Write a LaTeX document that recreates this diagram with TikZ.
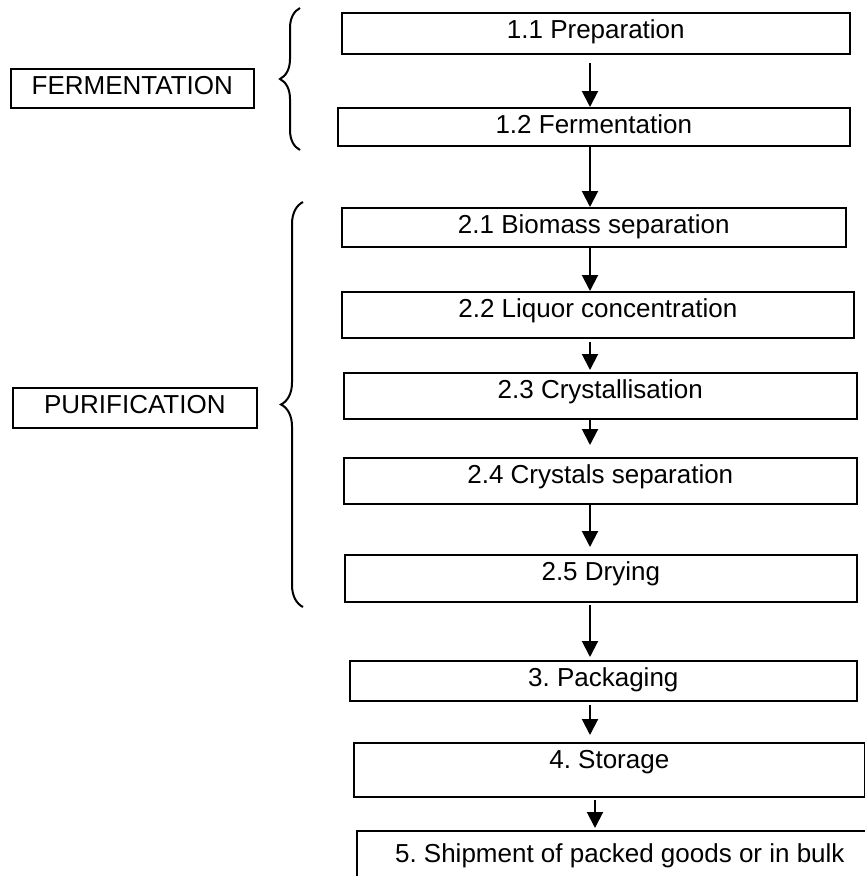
\documentclass[tikz,border=0pt]{standalone}
\usepackage{fontspec}
\setmainfont{Liberation Sans}
\usepackage{tikz}
\usetikzlibrary{
        arrows.meta,
        decorations.pathreplacing,
        positioning
    }
\frenchspacing
\tikzset{
    stage/.style={draw,line width=1.6pt,anchor=north west,inner xsep=0pt,inner ysep=8pt,
        text height=18pt,font=\fontsize{26}{30}\selectfont},
    phase/.style={stage,inner xsep=0pt},
    flow/.style={-{Triangle[length=16pt,width=16pt]},line width=2pt},
    bracket/.style={decorate,decoration={brace,amplitude=#1},line width=2pt}
}

\begin{document}
\begin{tikzpicture}[x=1pt,y=-1pt]
                    \useasboundingbox (0,0) rectangle (865,876);
                    \node[phase,minimum width=243pt,text depth=5pt] (ferm)  at (10,68)   {FERMENTATION};
                    \node[phase,minimum width=244pt,text depth=6pt] (purif) at (12,387)  {PURIFICATION};
                    \node[stage,minimum width=508pt,text depth=7pt]  (p11) at (341,12)  {1.1 Preparation};
                    \node[stage,minimum width=512pt,text depth=4pt]  (p12) at (337,107) {1.2 Fermentation};
                    \node[stage,minimum width=504pt,text depth=5pt]  (p21) at (341,207) {2.1 Biomass separation};
                    \node[stage,minimum width=512pt,text depth=12pt] (p22) at (341,291) {2.2 Liquor concentration};
                    \node[stage,minimum width=513pt,text depth=12pt] (p23) at (343,372) {2.3 Crystallisation};
                    \node[stage,minimum width=513pt,text depth=12pt] (p24) at (343,457) {2.4 Crystals separation};
                    \node[stage,minimum width=512pt,text depth=13pt] (p25) at (344,554) {2.5 Drying};
                    \node[stage,minimum width=507pt,text depth=6pt]  (p3)  at (349,660) {3. Packaging};
                    \node[stage,minimum width=511pt,text depth=20pt] (p4)  at (353,742) {4. Storage};
                    \node[stage,minimum width=526pt,text height=24pt,text depth=36pt] (p5) at (356,830) {5. Shipment of packed goods or in bulk};
                    \coordinate (axis) at (590,0);
                    \coordinate (axisb) at (595,0);
                    \draw[bracket=20pt] (300,150) -- (300,8);
                    \draw[bracket=22pt] (303,607) -- (303,202);
                    \path[flow]
                        (axis |- p11.south) edge[shorten <=8pt] (axis |- p12.north)
                        (axis |- p12.south) edge (axis |- p21.north)
                        (axis |- p21.south) edge (axis |- p22.north)
                        (axis |- p22.south) edge[shorten <=3pt,shorten >=2pt] (axis |- p23.north)
                        (axis |- p23.south) edge[shorten <=-2pt,shorten >=12pt] (axis |- p24.north)
                        (axis |- p24.south) edge[shorten >=7pt] (axis |- p25.north)
                        (axis |- p25.south) edge[shorten <=2pt,shorten >=3pt] (axis |- p3.north)
                        (axis |- p3.south)  edge[shorten <=3pt,shorten >=7pt] (axis |- p4.north)
                        (axisb |- p4.south) edge[shorten <=2pt,shorten >=2pt] (axisb |- p5.north)
                        ;
                \end{tikzpicture}
\end{document}
